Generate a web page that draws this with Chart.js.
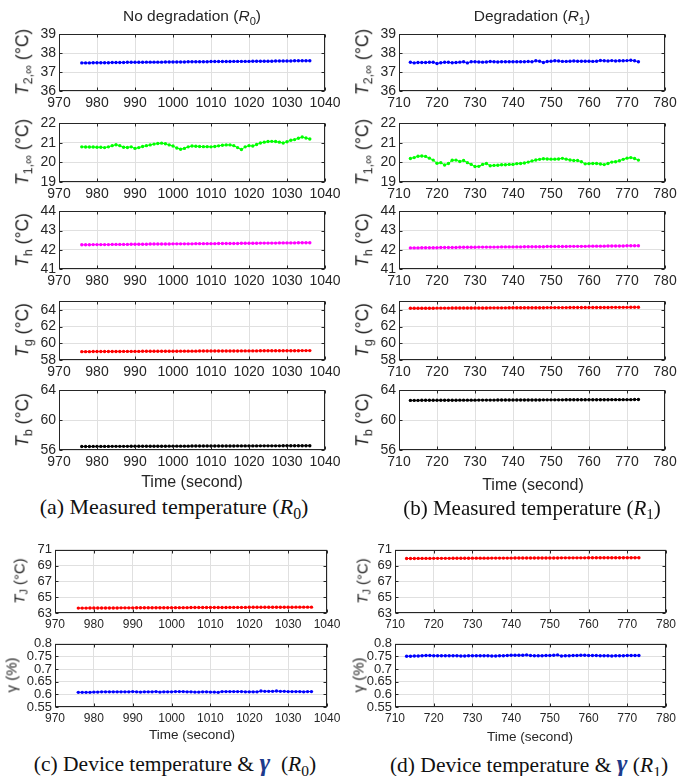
<!DOCTYPE html>
<html>
<head>
<meta charset="utf-8">
<script src="https://cdn.jsdelivr.net/npm/chart.js@4.4.1/dist/chart.umd.min.js"></script>
<style>
  body { margin: 0; background: #fff; }
  #fig { position: relative; width: 697px; height: 776px; overflow: hidden;
         font-family: "Liberation Sans", Arial, sans-serif; color: #262626; }
  #fig canvas { position: absolute; }
  .lab { position: absolute; white-space: nowrap; transform: translate(-50%, -50%); line-height: 1; }
  .ylab { transform: translate(-50%, -50%) rotate(-90deg); }
  .cap { font-family: "Liberation Serif", "Times New Roman", serif; color: #111; }
  .gam { font-weight: bold; font-style: italic; color: #1d3b8c; font-size: 120%; }
  sub { font-size: 72%; vertical-align: -0.32em; line-height: 0; }
</style>
</head>
<body>
<div id="fig"></div>
<script>
// time stamps (s)
const timeR0 = [976,977,978,979,980,981,982,983,984,985,
  986,987,988,989,990,991,992,993,994,995,
  996,997,998,999,1000,1001,1002,1003,1004,1005,
  1006,1007,1008,1009,1010,1011,1012,1013,1014,1015,
  1016,1017,1018,1019,1020,1021,1022,1023,1024,1025,
  1026,1027,1028,1029,1030,1031,1032,1033,1034,1035,1036];
const timeR1 = [713,714,715,716,717,718,719,720,721,722,
  723,724,725,726,727,728,729,730,731,732,
  733,734,735,736,737,738,739,740,741,742,
  743,744,745,746,747,748,749,750,751,752,
  753,754,755,756,757,758,759,760,761,762,
  763,764,765,766,767,768,769,770,771,772,773];

// T2,inf
const t2R0 = [37.49,37.49,37.49,37.50,37.50,37.50,37.50,37.50,37.51,37.51,
  37.51,37.51,37.52,37.52,37.52,37.52,37.52,37.53,37.53,37.53,
  37.53,37.53,37.54,37.54,37.54,37.54,37.54,37.54,37.55,37.55,
  37.55,37.55,37.55,37.55,37.56,37.56,37.56,37.56,37.56,37.56,
  37.57,37.57,37.57,37.57,37.57,37.58,37.58,37.58,37.58,37.58,
  37.58,37.59,37.59,37.59,37.59,37.59,37.60,37.60,37.60,37.60,37.60];
const t2R1 = [37.52,37.49,37.51,37.51,37.51,37.52,37.52,37.46,37.50,37.52,
  37.52,37.50,37.51,37.53,37.55,37.49,37.55,37.55,37.54,37.53,
  37.54,37.56,37.55,37.54,37.55,37.55,37.55,37.55,37.55,37.55,
  37.55,37.56,37.55,37.60,37.58,37.51,37.56,37.58,37.60,37.59,
  37.57,37.57,37.58,37.59,37.58,37.58,37.58,37.58,37.57,37.58,
  37.62,37.60,37.59,37.61,37.59,37.60,37.60,37.61,37.63,37.60,37.55];

// T1,inf
const t1R0 = [20.80,20.79,20.79,20.79,20.78,20.78,20.76,20.80,20.86,20.91,
  20.86,20.78,20.77,20.80,20.72,20.76,20.82,20.86,20.90,20.94,
  20.97,20.99,20.96,20.90,20.84,20.74,20.68,20.72,20.80,20.84,
  20.83,20.82,20.81,20.81,20.80,20.82,20.85,20.88,20.90,20.90,
  20.86,20.76,20.66,20.80,20.86,20.84,20.92,21.00,21.04,21.07,
  21.08,21.07,21.04,21.00,21.06,21.14,21.17,21.24,21.30,21.25,21.20];
const t1R1 = [20.20,20.25,20.32,20.33,20.31,20.22,20.12,19.96,19.99,19.87,
  19.95,20.11,20.12,20.05,20.10,19.99,19.90,19.79,19.80,19.90,
  19.95,19.83,19.85,19.86,19.88,19.88,19.90,19.90,19.94,19.95,
  19.97,20.02,20.08,20.13,20.16,20.19,20.18,20.17,20.17,20.18,
  20.21,20.17,20.13,20.10,20.10,20.04,19.93,19.94,19.95,19.95,
  19.92,19.89,19.95,20.02,20.04,20.09,20.16,20.22,20.25,20.20,20.12];

// Th
const thR0 = [42.26,42.26,42.26,42.27,42.27,42.27,42.27,42.27,42.28,42.28,
  42.28,42.28,42.28,42.29,42.29,42.29,42.29,42.29,42.30,42.30,
  42.30,42.30,42.30,42.30,42.31,42.31,42.31,42.31,42.31,42.31,
  42.32,42.32,42.32,42.32,42.32,42.32,42.33,42.33,42.33,42.33,
  42.33,42.33,42.34,42.34,42.34,42.34,42.34,42.35,42.35,42.35,
  42.35,42.35,42.36,42.36,42.36,42.36,42.36,42.37,42.37,42.37,42.37];
const thR1 = [42.10,42.10,42.10,42.11,42.11,42.11,42.11,42.11,42.12,42.12,
  42.12,42.12,42.12,42.13,42.13,42.13,42.13,42.13,42.14,42.14,
  42.14,42.14,42.14,42.14,42.15,42.15,42.15,42.15,42.15,42.15,
  42.16,42.16,42.16,42.16,42.16,42.16,42.17,42.17,42.17,42.17,
  42.17,42.17,42.18,42.18,42.18,42.18,42.18,42.19,42.19,42.19,
  42.19,42.19,42.20,42.20,42.20,42.20,42.20,42.21,42.21,42.21,42.21];

// Tg
const tgR0 = [59.00,59.00,59.00,59.01,59.01,59.01,59.01,59.02,59.02,59.02,
  59.02,59.03,59.03,59.03,59.03,59.03,59.04,59.04,59.04,59.04,
  59.04,59.05,59.05,59.05,59.05,59.05,59.06,59.06,59.06,59.06,
  59.06,59.07,59.07,59.07,59.07,59.07,59.08,59.08,59.08,59.08,
  59.08,59.08,59.09,59.09,59.09,59.09,59.09,59.10,59.10,59.10,
  59.10,59.10,59.10,59.11,59.11,59.11,59.11,59.11,59.12,59.12,59.12];
const tgR1 = [64.18,64.18,64.18,64.19,64.19,64.19,64.19,64.20,64.20,64.20,
  64.20,64.21,64.21,64.21,64.21,64.21,64.22,64.22,64.22,64.22,
  64.22,64.23,64.23,64.23,64.23,64.23,64.24,64.24,64.24,64.24,
  64.24,64.25,64.25,64.25,64.25,64.25,64.26,64.26,64.26,64.26,
  64.26,64.26,64.27,64.27,64.27,64.27,64.27,64.28,64.28,64.28,
  64.28,64.28,64.28,64.29,64.29,64.29,64.29,64.29,64.30,64.30,64.30];

// Tb
const tbR0 = [56.47,56.47,56.47,56.48,56.48,56.48,56.48,56.48,56.49,56.49,
  56.49,56.49,56.49,56.50,56.50,56.50,56.50,56.50,56.51,56.51,
  56.51,56.51,56.51,56.52,56.52,56.52,56.52,56.52,56.52,56.53,
  56.53,56.53,56.53,56.53,56.53,56.54,56.54,56.54,56.54,56.54,
  56.54,56.55,56.55,56.55,56.55,56.55,56.55,56.56,56.56,56.56,
  56.56,56.56,56.56,56.57,56.57,56.57,56.57,56.57,56.57,56.58,56.58];
const tbR1 = [62.66,62.66,62.66,62.67,62.67,62.67,62.67,62.67,62.68,62.68,
  62.68,62.68,62.68,62.69,62.69,62.69,62.69,62.69,62.70,62.70,
  62.70,62.70,62.70,62.71,62.71,62.71,62.71,62.71,62.71,62.72,
  62.72,62.72,62.72,62.72,62.72,62.73,62.73,62.73,62.73,62.73,
  62.73,62.74,62.74,62.74,62.74,62.74,62.74,62.75,62.75,62.75,
  62.75,62.75,62.75,62.76,62.76,62.76,62.76,62.76,62.76,62.77,62.77];

// TJ
const tjR0 = [63.62,63.62,63.62,63.63,63.63,63.63,63.63,63.64,63.64,63.64,
  63.64,63.65,63.65,63.65,63.65,63.66,63.66,63.66,63.66,63.66,
  63.67,63.67,63.67,63.67,63.68,63.68,63.68,63.68,63.68,63.69,
  63.69,63.69,63.69,63.69,63.70,63.70,63.70,63.70,63.70,63.71,
  63.71,63.71,63.71,63.71,63.72,63.72,63.72,63.72,63.72,63.72,
  63.73,63.73,63.73,63.73,63.73,63.73,63.74,63.74,63.74,63.74,63.74];
const tjR1 = [69.90,69.90,69.90,69.91,69.91,69.91,69.91,69.92,69.92,69.92,
  69.92,69.92,69.93,69.93,69.93,69.93,69.93,69.94,69.94,69.94,
  69.94,69.94,69.95,69.95,69.95,69.95,69.95,69.95,69.96,69.96,
  69.96,69.96,69.96,69.96,69.97,69.97,69.97,69.97,69.97,69.97,
  69.98,69.98,69.98,69.98,69.98,69.98,69.98,69.99,69.99,69.99,
  69.99,69.99,69.99,69.99,70.00,70.00,70.00,70.00,70.00,70.00,70.00];

// gamma (%)
const gammaR0 = [0.608,0.608,0.608,0.608,0.609,0.609,0.610,0.610,0.610,0.610,
  0.610,0.610,0.610,0.610,0.611,0.610,0.609,0.610,0.610,0.610,
  0.611,0.609,0.610,0.610,0.610,0.611,0.611,0.611,0.610,0.610,
  0.609,0.609,0.610,0.610,0.609,0.609,0.608,0.611,0.611,0.611,
  0.611,0.611,0.611,0.610,0.610,0.610,0.610,0.613,0.612,0.612,
  0.612,0.613,0.612,0.612,0.611,0.611,0.611,0.611,0.610,0.611,0.611];
const gammaR1 = [0.751,0.751,0.752,0.752,0.753,0.754,0.754,0.753,0.753,0.753,
  0.753,0.753,0.753,0.753,0.752,0.752,0.753,0.753,0.753,0.753,
  0.753,0.753,0.752,0.752,0.753,0.753,0.754,0.755,0.755,0.755,
  0.755,0.756,0.754,0.753,0.753,0.753,0.754,0.754,0.755,0.756,
  0.752,0.753,0.753,0.754,0.754,0.755,0.755,0.754,0.754,0.754,
  0.753,0.753,0.753,0.752,0.753,0.753,0.753,0.754,0.754,0.754,0.754];

const xR0 = [970, 1040], xR1 = [710, 780];

const TXT = "#262626", AXIS = "#262626", GRID = "#e0e0e0";
const FONT = '"Liberation Sans", Arial, sans-serif';
const M = { l: 46, t: 10, r: 22, b: 24 };
const fig = document.getElementById("fig");
const num = (v) => String(Math.round(v * 100) / 100); // no thousands separator

// full MATLAB-like box with inward ticks
const boxPlugin = {
  id: "box",
  afterDraw(chart) {
    const { ctx, chartArea: a, scales } = chart;
    const L = Math.round(a.left) + 0.5, T = Math.round(a.top) + 0.5;
    const R = Math.round(a.right) - 0.5, B = Math.round(a.bottom) - 0.5;
    ctx.save();
    ctx.strokeStyle = AXIS; ctx.lineWidth = 1;
    ctx.beginPath();
    scales.x.ticks.forEach((t) => {
      const px = Math.round(scales.x.getPixelForValue(t.value)) + 0.5;
      ctx.moveTo(px, B); ctx.lineTo(px, B - 3);
      ctx.moveTo(px, T); ctx.lineTo(px, T + 3);
    });
    scales.y.ticks.forEach((t) => {
      const py = Math.round(scales.y.getPixelForValue(t.value)) + 0.5;
      ctx.moveTo(L, py); ctx.lineTo(L + 3, py);
      ctx.moveTo(R, py); ctx.lineTo(R - 3, py);
    });
    ctx.stroke();
    ctx.strokeRect(L, T, R - L, B - T);
    ctx.restore();
  },
};

function panel(p) {
  const c = document.createElement("canvas");
  c.width = p.w + M.l + M.r;
  c.height = p.h + M.t + M.b;
  c.style.left = (p.x - M.l) + "px";
  c.style.top = (p.y - M.t) + "px";
  fig.appendChild(c);
  new Chart(c, {
    type: "line",
    data: {
      datasets: [{
        data: p.xs.map((x, i) => ({ x, y: p.ys[i] })),
        borderColor: p.color, backgroundColor: p.color,
        borderWidth: 1, pointRadius: 1.7, pointBorderWidth: 0, tension: 0,
      }],
    },
    options: {
      responsive: false, animation: false, events: [],
      layout: { padding: { left: 0, top: M.t, right: M.r, bottom: 0 } },
      plugins: { legend: { display: false }, tooltip: { enabled: false } },
      scales: {
        x: {
          type: "linear", min: p.xr[0], max: p.xr[1],
          afterFit: (s) => { s.height = M.b; },
          grid: { color: GRID, drawTicks: false }, border: { display: false },
          ticks: { stepSize: 10, padding: 4, color: TXT, autoSkip: false, maxRotation: 0,
            callback: num, font: { family: FONT, size: p.fx } },
        },
        y: {
          min: p.yr[0], max: p.yr[1],
          afterFit: (s) => { s.width = M.l; },
          grid: { color: GRID, drawTicks: false }, border: { display: false },
          ticks: { stepSize: p.step, padding: 3, color: TXT, autoSkip: false, includeBounds: false,
            callback: num, font: { family: FONT, size: p.fy } },
        },
      },
    },
    plugins: [boxPlugin],
  });
}

function label(html, cx, cy, cls, size) {
  const d = document.createElement("div");
  d.className = "lab " + (cls || "");
  d.style.left = cx + "px"; d.style.top = cy + "px";
  d.style.fontSize = size + "px";
  d.innerHTML = html;
  fig.appendChild(d);
}

const rows = [[33, 58], [122, 60], [210, 59], [300, 60], [389, 61]];
const top5 = [
  { ys: [t2R0, t2R1], yr: [36, 39], step: 1, color: "#0000ff", lab: "<i>T</i><sub>2,∞</sub> (°C)" },
  { ys: [t1R0, t1R1], yr: [19, 22], step: 1, color: "#00ff00", lab: "<i>T</i><sub>1,∞</sub> (°C)" },
  { ys: [thR0, thR1], yr: [41, 44], step: 1, color: "#ff00ff", lab: "<i>T</i><sub>h</sub> (°C)" },
  { ys: [tgR0, tgR1], yr: [58, 65], step: 2, color: "#ff0000", lab: "<i>T</i><sub>g</sub> (°C)" },
  { ys: [tbR0, tbR1], yr: [56, 64], step: 4, color: "#000000", lab: "<i>T</i><sub>b</sub> (°C)" },
];
top5.forEach((s, i) => {
  const [y, h] = rows[i];
  panel({ x: 59, y, w: 266, h, xs: timeR0, ys: s.ys[0], xr: xR0, yr: s.yr, step: s.step, color: s.color, fx: 14, fy: 14 });
  panel({ x: 399, y, w: 266, h, xs: timeR1, ys: s.ys[1], xr: xR1, yr: s.yr, step: s.step, color: s.color, fx: 14, fy: 14 });
  label(s.lab, 23, y + h / 2, "ylab", 17.5);
  label(s.lab, 363, y + h / 2, "ylab", 17.5);
});

const bot = [
  { y: 549, h: 64, ys: [tjR0, tjR1], yr: [63, 71], step: 2, color: "#ff0000", lab: "<i>T</i><sub>J</sub> (°C)", lx: [19, 362] },
  { y: 643, h: 64, ys: [gammaR0, gammaR1], yr: [0.55, 0.8], step: 0.05, color: "#0000ff", lab: "γ (%)", lx: [11, 358] },
];
bot.forEach((s) => {
  panel({ x: 55, y: s.y, w: 272, h: s.h, xs: timeR0, ys: s.ys[0], xr: xR0, yr: s.yr, step: s.step, color: s.color, fx: 12, fy: 13 });
  panel({ x: 395, y: s.y, w: 271, h: s.h, xs: timeR1, ys: s.ys[1], xr: xR1, yr: s.yr, step: s.step, color: s.color, fx: 12, fy: 13 });
  label(s.lab, s.lx[0], s.y + s.h / 2, "ylab", 15);
  label(s.lab, s.lx[1], s.y + s.h / 2, "ylab", 15);
});

label("No degradation (<i>R</i><sub>0</sub>)", 192, 16, "", 15.5);
label("Degradation (<i>R</i><sub>1</sub>)", 532, 16, "", 15.5);
label("Time (second)", 192, 482, "", 16);
label("Time (second)", 533, 485, "", 16);
label("Time (second)", 192, 735, "", 13.5);
label("Time (second)", 530, 737, "", 13.5);
label("(a) Measured temperature (<i>R</i><sub>0</sub>)", 174, 507, "cap", 22);
label("(b) Measured temperature (<i>R</i><sub>1</sub>)", 532, 508, "cap", 21);
label('(c) Device temperature &amp; <span class="gam">γ</span>&nbsp; (<i>R</i><sub>0</sub>)', 175, 763, "cap", 21.5);
label('(d) Device temperature &amp; <span class="gam">γ</span> (<i>R</i><sub>1</sub>)', 529, 764, "cap", 21.5);
</script>
</body>
</html>
